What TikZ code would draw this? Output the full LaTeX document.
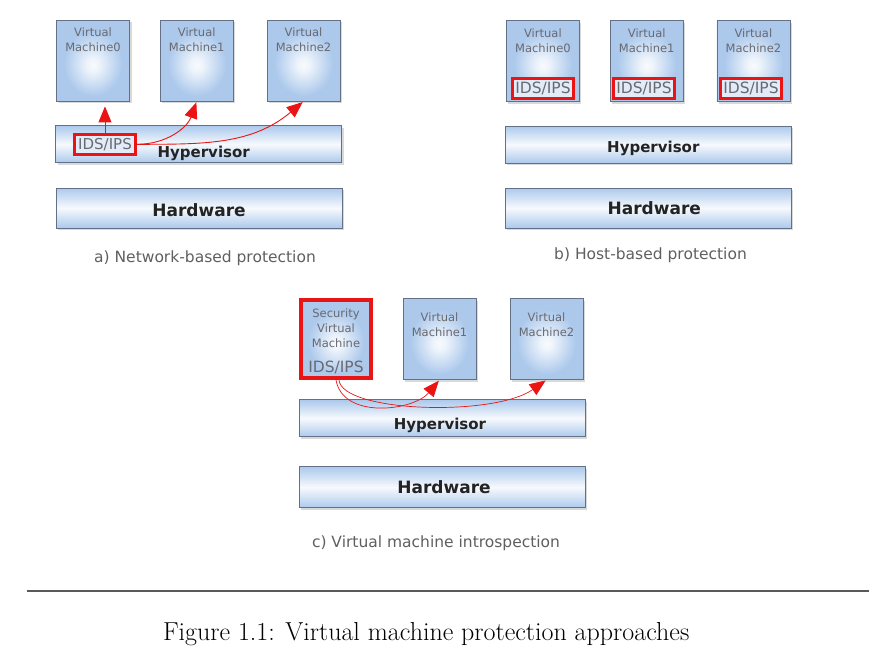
\documentclass[tikz,border=0pt]{standalone}
\usepackage{fontspec}
\newfontfamily\dvsans{DejaVu Sans}
\usetikzlibrary{shapes,arrows.meta,positioning,shadows,calc}
\definecolor{vmblue}{RGB}{172,201,236}
\definecolor{vmborder}{RGB}{100,112,135}
\definecolor{idsred}{RGB}{235,20,20}
\definecolor{labelgray}{RGB}{105,105,112}
\definecolor{bartext}{RGB}{35,35,35}
\definecolor{capgray}{RGB}{95,95,95}
\pgfdeclareradialshading{vmglow}{\pgfpoint{0bp}{-3bp}}{color(0bp)=(white!92!vmblue); color(4bp)=(white!80!vmblue); color(20bp)=(vmblue); color(50bp)=(vmblue)}

\begin{document}
\begin{tikzpicture}[x=1pt, y=1pt,
  vm/.style={draw=vmborder, line width=0.8pt, shading=vmglow, minimum width=73pt, minimum height=81pt, inner sep=0pt,
    drop shadow={shadow xshift=2pt, shadow yshift=-2pt, opacity=0.3}},
  bar/.style={draw=vmborder, line width=0.8pt, top color=vmblue, bottom color=vmblue, middle color=white!90!vmblue, minimum width=286pt, inner sep=0pt,
    drop shadow={shadow xshift=2pt, shadow yshift=-2pt, opacity=0.3}},
  vml/.style={anchor=north, align=center, inner sep=0pt, text=labelgray, font=\dvsans\fontsize{11.5}{15}\selectfont},
  hypl/.style={inner sep=0pt, text=bartext, font=\dvsans\bfseries\fontsize{15}{18}\selectfont},
  hwl/.style={inner sep=0pt, text=bartext, font=\dvsans\bfseries\fontsize{17}{20}\selectfont},
  ids/.style={draw=idsred, line width=3pt, fill=vmblue!35!white, text=labelgray, minimum width=61pt, minimum height=20pt, inner sep=0pt,
    font=\dvsans\fontsize{15.5}{18}\selectfont},
  idsarrow/.style={idsred, line width=0.9pt, -{Triangle[length=16pt, width=13pt]}, shorten >=1pt},
  capt/.style={inner sep=0pt, text=capgray, font=\dvsans\fontsize{15.5}{18}\selectfont}]
  \useasboundingbox (0,0) rectangle (882,-659);

  \node[vm, label={[vml, yshift=-7.5pt]north:Virtual\\Machine0}] (vmA0) at (93,-60.5) {};
  \node[vm, label={[vml, yshift=-7.5pt]north:Virtual\\Machine1}] (vmA1) at (196.7,-60.5) {};
  \node[vm, label={[vml, yshift=-7.5pt]north:Virtual\\Machine2}] (vmA2) at (303.5,-60.5) {};
  \node[bar, minimum height=37pt, label={[hypl, xshift=5pt, yshift=-9pt]center:Hypervisor}] (hypA) at (198.7,-144.3) {};
  \node[bar, minimum height=40pt, label={[hwl, yshift=-2pt]center:Hardware}] (hwA) at (199,-208) {};
  \node[ids, font=\dvsans\fontsize{15}{18}\selectfont] (idsA) at (105,-144.3) {IDS/IPS};
  \draw[idsarrow, shorten >=5pt] (idsA.north) -- (idsA.north |- vmA0.south);
  \draw[idsarrow] (idsA.east) to[out=0, in=-110] (vmA1.south);
  \draw[idsarrow] (idsA.east) to[out=0, in=-140] (vmA2.south);
  \node[capt] (capA) at (205,-258) {a) Network-based protection};

  \node[vm, label={[vml, yshift=-8.5pt]north:Virtual\\Machine0}] (vmB0) at (542.9,-61) {};
  \node[vm, label={[vml, yshift=-8.5pt]north:Virtual\\Machine1}] (vmB1) at (646.7,-61) {};
  \node[vm, label={[vml, yshift=-8.5pt]north:Virtual\\Machine2}] (vmB2) at (753.4,-61) {};
  \node[ids] (idsB0) at (543,-88) {IDS/IPS};
  \node[ids] (idsB1) at (644,-88) {IDS/IPS};
  \node[ids] (idsB2) at (751,-88) {IDS/IPS};
  \node[bar, minimum height=37pt, label={[hypl, xshift=5pt, yshift=-3.5pt]center:Hypervisor}] (hypB) at (648.3,-144.5) {};
  \node[bar, minimum height=40pt, label={[hwl, xshift=6pt]center:Hardware}] (hwB) at (648.3,-208) {};
  \node[capt] (capB) at (650.5,-255) {b) Host-based protection};

  \node[vm, draw=idsred, line width=4pt, minimum width=70pt, minimum height=78pt,
    label={[vml, yshift=-10.8pt]north:Security\\Virtual\\Machine},
    label={[anchor=base, yshift=7.7pt, inner sep=0pt, text=labelgray, font=\dvsans\fontsize{15.5}{18}\selectfont]south:IDS/IPS}] (svm) at (336,-339) {};
  \node[vm, label={[vml, yshift=-14.2pt]north:Virtual\\Machine1}] (vmC1) at (439.5,-339) {};
  \node[vm, label={[vml, yshift=-14.2pt]north:Virtual\\Machine2}] (vmC2) at (546.5,-339) {};
  \node[bar, minimum height=37pt, label={[hypl, xshift=-2pt, yshift=-7.5pt]center:Hypervisor}] (hypC) at (442,-418.3) {};
  \node[bar, minimum height=41pt, label={[hwl, xshift=2pt]center:Hardware}] (hwC) at (442,-487.3) {};
  \draw[idsarrow, line width=0.7pt] (svm.south) to[out=-80, in=-130] (vmC1.south);
  \draw[idsarrow, line width=0.7pt] ([xshift=3pt]svm.south) to[out=-85, in=-145, out looseness=0.4, in looseness=0.8] (vmC2.south);
  \node[capt] (capC) at (436,-543) {c) Virtual machine introspection};

  \draw[line width=2pt, black!65] (26.7,-590.7) -- (869,-590.7);
  \node[anchor=base, inner sep=0pt, font=\fontsize{26}{30}\selectfont] (figcap) at (426.2,-640) {Figure 1.1: Virtual machine protection approaches};
\end{tikzpicture}
\end{document}
